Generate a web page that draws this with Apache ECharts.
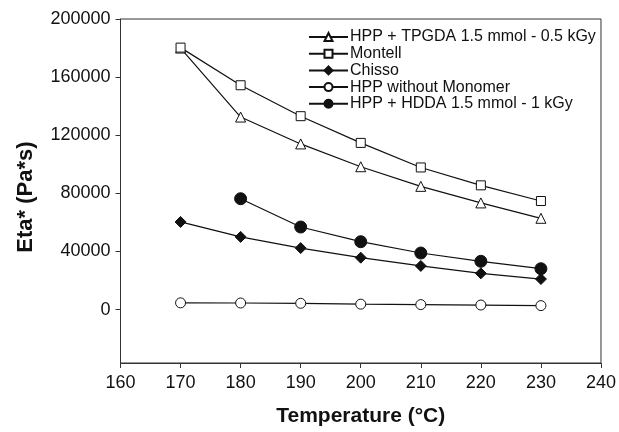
<!DOCTYPE html>
<html>
<head>
<meta charset="utf-8">
<script src="https://cdn.jsdelivr.net/npm/echarts@6/dist/echarts.min.js"></script>
<style>html,body{margin:0;padding:0;background:#fff}#c{width:619px;height:432px}</style>
</head>
<body>
<div id="c"></div>
<script>
var temps = [170, 180, 190, 200, 210, 220, 230];
var tpgda = [180000, 132500, 114000, 98300, 84800, 73400, 62800];
var montell = [180300, 154400, 133100, 114700, 97800, 85500, 74700];
var chisso = [60300, 50000, 42300, 35700, 30000, 24900, 21000];
var hppNoMonomer = [4600, 4500, 4300, 3700, 3400, 3100, 2700];
var hdda = [null, 76300, 56800, 46700, 38900, 33200, 28100];
var yTicks = [0, 40000, 80000, 120000, 160000, 200000];
var names = ['HPP + TPGDA 1.5 mmol - 0.5 kGy', 'Montell', 'Chisso', 'HPP without Monomer', 'HPP + HDDA 1.5 mmol - 1 kGy'];

function pairs(arr) {
  var out = [];
  for (var i = 0; i < temps.length; i++) if (arr[i] !== null) out.push([temps[i], arr[i]]);
  return out;
}
function mk(name, arr, symbol, size, fill) {
  return {
    name: name, type: 'line', data: pairs(arr), symbol: symbol, symbolSize: size,
    lineStyle: { color: '#111', width: 1.2 },
    itemStyle: { color: fill, borderColor: '#111', borderWidth: 1 },
    emphasis: { disabled: true }, animation: false, z: 3
  };
}
var font = 'Liberation Sans, Arial';
var chart = echarts.init(document.getElementById('c'), null, { renderer: 'canvas' });
chart.setOption({
  animation: false,
  grid: { left: 120.5, right: 16, top: 19, bottom: 61, show: true, borderColor: '#333', borderWidth: 1, backgroundColor: 'transparent' },
  legend: {
    orient: 'vertical', left: 303, top: 24, itemWidth: 39, itemHeight: 10, itemGap: 0.7,
    textStyle: { fontFamily: font, fontSize: 16, color: '#111', padding: [0, 0, 0, -3], lineHeight: 16 },
    data: names
  },
  xAxis: {
    type: 'value', min: 160, max: 240, interval: 10,
    name: 'Temperature (°C)', nameLocation: 'middle', nameGap: 43,
    nameTextStyle: { fontFamily: font, fontSize: 21, fontWeight: 'bold', color: '#111' },
    axisLine: { onZero: false, lineStyle: { color: '#333' } },
    axisTick: { length: 5, lineStyle: { color: '#333' } },
    axisLabel: { fontFamily: font, fontSize: 18, color: '#111', margin: 11 },
    splitLine: { show: false }
  },
  yAxis: {
    type: 'value', min: -36800, max: 200000,
    name: 'Eta* (Pa*s)', nameLocation: 'middle', nameGap: 84,
    nameTextStyle: { fontFamily: font, fontSize: 22, fontWeight: 'bold', color: '#111', padding: [0, 12, 0, 0] },
    axisLine: { onZero: false, lineStyle: { color: '#333' } },
    axisTick: { length: 5, lineStyle: { color: '#333' }, customValues: yTicks },
    axisLabel: { fontFamily: font, fontSize: 18, color: '#111', margin: 10, customValues: yTicks,
      formatter: function (v) { return String(v); } },
    splitLine: { show: false }
  },
  series: [
    mk(names[0], tpgda, 'triangle', 10, '#fff'),
    mk(names[1], montell, 'rect', 9, '#fff'),
    mk(names[2], chisso, 'diamond', 11, '#111'),
    mk(names[3], hppNoMonomer, 'circle', 10, '#fff'),
    mk(names[4], hdda, 'circle', 12, '#111')
  ]
});
</script>
</body>
</html>
